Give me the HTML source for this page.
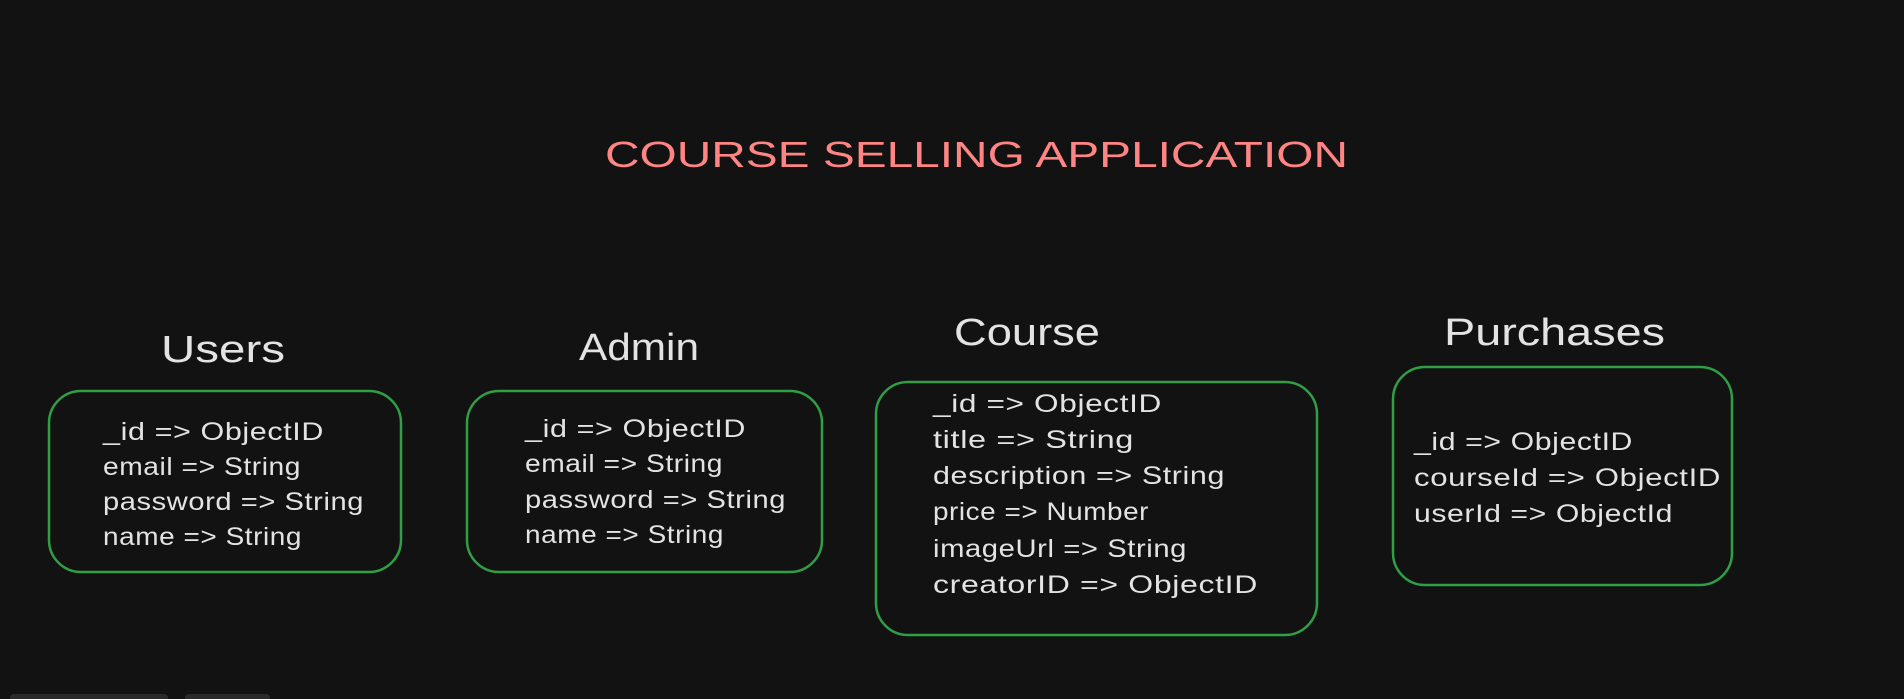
<!DOCTYPE html>
<html><head><meta charset="utf-8"><style>
html,body{margin:0;padding:0;background:#121212;}
svg{display:block;}
text{font-family:"Liberation Sans",sans-serif;fill:#e3e3e3;}
.f{font-size:25px;letter-spacing:0.5px;}
.t{font-size:38px;}
</style></head><body>
<svg width="1904" height="699" viewBox="0 0 1904 699" xmlns="http://www.w3.org/2000/svg">
<rect width="1904" height="699" fill="#121212"/>
<text x="605" y="167" style="font-size:36px;fill:#ff8585;" textLength="743" lengthAdjust="spacingAndGlyphs">COURSE SELLING APPLICATION</text>

<g fill="none" stroke="#2f9e44" stroke-width="2.5">
<rect x="49" y="391" width="352" height="181" rx="32"/>
<rect x="467" y="391" width="355" height="181" rx="32"/>
<rect x="876" y="382" width="441" height="253" rx="32"/>
<rect x="1393" y="367" width="339" height="218" rx="32"/>
</g>

<text class="t" x="161" y="362" textLength="124" lengthAdjust="spacingAndGlyphs">Users</text>
<text class="t" x="579" y="360" textLength="120" lengthAdjust="spacingAndGlyphs">Admin</text>
<text class="t" x="954" y="345" textLength="146" lengthAdjust="spacingAndGlyphs">Course</text>
<text class="t" x="1444" y="345" textLength="221" lengthAdjust="spacingAndGlyphs">Purchases</text>

<text class="f" x="103" y="440" textLength="221" lengthAdjust="spacingAndGlyphs">_id =&gt; ObjectID</text>
<text class="f" x="103" y="475" textLength="198" lengthAdjust="spacingAndGlyphs">email =&gt; String</text>
<text class="f" x="103" y="510" textLength="261" lengthAdjust="spacingAndGlyphs">password =&gt; String</text>
<text class="f" x="103" y="545" textLength="199" lengthAdjust="spacingAndGlyphs">name =&gt; String</text>

<text class="f" x="525" y="437" textLength="221" lengthAdjust="spacingAndGlyphs">_id =&gt; ObjectID</text>
<text class="f" x="525" y="472" textLength="198" lengthAdjust="spacingAndGlyphs">email =&gt; String</text>
<text class="f" x="525" y="508" textLength="261" lengthAdjust="spacingAndGlyphs">password =&gt; String</text>
<text class="f" x="525" y="543" textLength="199" lengthAdjust="spacingAndGlyphs">name =&gt; String</text>

<text class="f" x="933" y="412" textLength="229" lengthAdjust="spacingAndGlyphs">_id =&gt; ObjectID</text>
<text class="f" x="933" y="448" textLength="201" lengthAdjust="spacingAndGlyphs">title =&gt; String</text>
<text class="f" x="933" y="484" textLength="292" lengthAdjust="spacingAndGlyphs">description =&gt; String</text>
<text class="f" x="933" y="520" textLength="216" lengthAdjust="spacingAndGlyphs">price =&gt; Number</text>
<text class="f" x="933" y="557" textLength="254" lengthAdjust="spacingAndGlyphs">imageUrl =&gt; String</text>
<text class="f" x="933" y="593" textLength="325" lengthAdjust="spacingAndGlyphs">creatorID =&gt; ObjectID</text>

<text class="f" x="1414" y="450" textLength="219" lengthAdjust="spacingAndGlyphs">_id =&gt; ObjectID</text>
<text class="f" x="1414" y="486" textLength="307" lengthAdjust="spacingAndGlyphs">courseId =&gt; ObjectID</text>
<text class="f" x="1414" y="522" textLength="259" lengthAdjust="spacingAndGlyphs">userId =&gt; ObjectId</text>

<rect x="10" y="694" width="158" height="10" rx="4" fill="#2a2a2a"/>
<rect x="185" y="694" width="85" height="10" rx="4" fill="#2a2a2a"/>
</svg>
</body></html>
